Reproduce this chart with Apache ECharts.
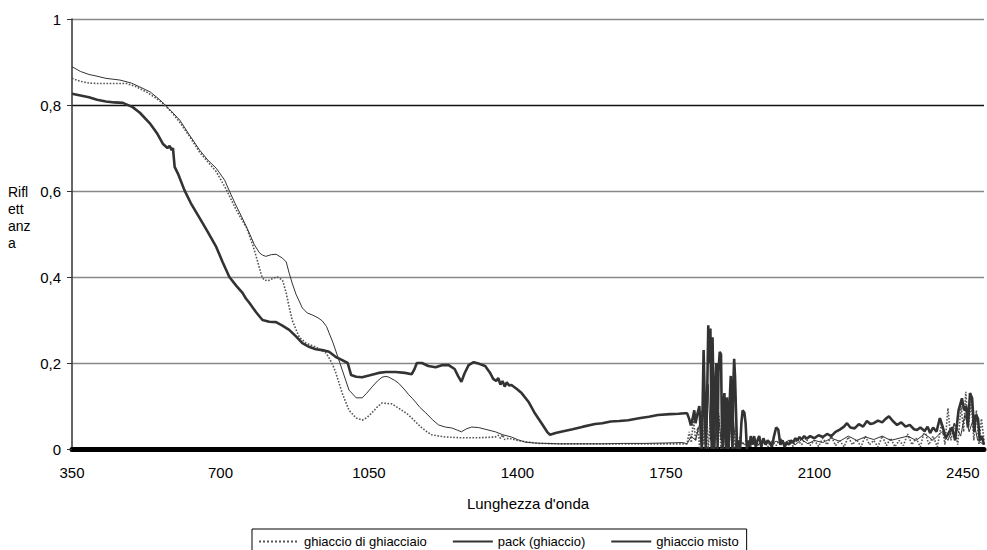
<!DOCTYPE html>
<html>
<head>
<meta charset="utf-8">
<script src="https://cdn.jsdelivr.net/npm/echarts@6/dist/echarts.min.js"></script>
<style>
html,body{margin:0;padding:0;background:#fff;}
#chart{width:987px;height:550px;}
</style>
</head>
<body>
<div id="chart"></div>
<script>
// ---- Data (wavelength nm, reflectance) ----
const seriesNames = ['ghiaccio di ghiacciaio', 'pack (ghiaccio)', 'ghiaccio misto'];
const xTicks = [350, 700, 1050, 1400, 1750, 2100, 2450];
const yTicks = [0, 0.2, 0.4, 0.6, 0.8, 1];

const wlGhiacciaio = [350,370,390,409,440,479,500,526,545,564,585,604,627,651,670,690,713,737,761,776,785,792,798,803,812,822,834,846,850,855,862,869,878,886,902,925,940,949,956,965,972,987,1003,1020,1034,1045,1057,1070,1081,1090,1104,1115,1128,1140,1151,1163,1175,1187,1198,1215,1230,1268,1300,1330,1348,1355,1360,1365,1370,1380,1400,1426,1450,1500,1600,1700,1790,
1800,1805,1810,1815,1820,1825,1830,1835,1840,1845,1850,1855,1860,1865,1870,1875,1880,1885,1890,1895,1900,1905,1910,1915,1920,1925,1930,1940,1950,1960,1970,1980,1990,2000,2010,2020,2030,2040,2050,2060,2070,2080,2090,2100,2110,2120,2130,2140,2150,2160,2170,2180,2190,2200,2210,2220,2230,2240,2250,2260,2270,2280,2290,2300,2310,2320,2330,2340,2350,2360,2370,2380,2390,2400,2408,2415,2422,2430,2438,2446,2452,2457,2463,2470,2476,2482,2488,2494,2500];
const rGhiacciaio = [0.862,0.855,0.851,0.85,0.85,0.85,0.843,0.83,0.818,0.804,0.783,0.76,0.727,0.69,0.668,0.645,0.605,0.556,0.516,0.475,0.445,0.42,0.40,0.393,0.391,0.396,0.40,0.393,0.38,0.363,0.33,0.30,0.278,0.26,0.246,0.237,0.228,0.223,0.212,0.195,0.177,0.13,0.09,0.072,0.067,0.073,0.084,0.098,0.107,0.106,0.105,0.098,0.09,0.082,0.072,0.06,0.049,0.04,0.033,0.03,0.028,0.026,0.026,0.027,0.028,0.032,0.025,0.033,0.022,0.025,0.02,0.016,0.013,0.012,0.012,0.012,0.012,
0.012,0.04,0.015,0.07,0.02,0.05,0.0,0.09,0.01,0.114,0.0,0.07,0.01,0.12,0.02,0.083,0.0,0.06,0.01,0.1,0.02,0.09,0.0,0.05,0.005,0.03,0.01,0.02,0.005,0.025,0.008,0.02,0.005,0.018,0.008,0.025,0.01,0.02,0.006,0.022,0.01,0.025,0.008,0.02,0.006,0.025,0.01,0.03,0.008,0.02,0.005,0.028,0.01,0.022,0.005,0.03,0.01,0.02,0.005,0.03,0.008,0.025,0.005,0.02,0.008,0.035,0.01,0.025,0.005,0.045,0.01,0.03,0.005,0.06,0.01,0.095,0.02,0.06,0.01,0.1,0.04,0.133,0.05,0.11,0.02,0.09,0.01,0.07,0.02];

const wlPack = [350,370,390,409,430,463,490,510,535,557,580,604,627,651,670,690,710,721,735,750,768,780,792,799,807,820,831,846,855,862,869,878,893,905,916,930,940,950,956,965,972,987,1003,1020,1034,1045,1057,1070,1081,1090,1097,1110,1120,1135,1144,1152,1160,1170,1184,1200,1214,1230,1245,1258,1268,1280,1292,1308,1324,1340,1348,1366,1386,1400,1418,1440,1466,1500,1550,1600,1650,1700,1750,1790,
1800,1810,1820,1830,1840,1845,1850,1855,1860,1865,1872,1880,1890,1900,1907,1915,1925,1935,1950,1965,1980,1995,2010,2025,2040,2055,2070,2085,2100,2120,2140,2160,2180,2200,2220,2240,2260,2280,2300,2320,2340,2360,2380,2400,2415,2430,2445,2455,2465,2475,2485,2500];
const rPack = [0.889,0.878,0.871,0.867,0.862,0.858,0.851,0.842,0.83,0.812,0.79,0.765,0.73,0.695,0.672,0.653,0.625,0.60,0.57,0.54,0.502,0.475,0.456,0.451,0.448,0.452,0.453,0.444,0.435,0.409,0.386,0.36,0.328,0.316,0.312,0.305,0.298,0.285,0.27,0.248,0.228,0.184,0.137,0.119,0.119,0.13,0.144,0.158,0.167,0.169,0.167,0.16,0.153,0.137,0.126,0.118,0.109,0.097,0.084,0.068,0.056,0.051,0.049,0.044,0.04,0.047,0.051,0.05,0.046,0.042,0.04,0.033,0.028,0.022,0.016,0.014,0.013,0.012,0.012,0.012,0.013,0.013,0.014,0.015,
0.012,0.03,0.02,0.06,0.1,0.0,0.15,0.02,0.12,0.0,0.1,0.02,0.08,0.03,0.1,0.0,0.02,0.01,0.015,0.008,0.02,0.01,0.018,0.012,0.02,0.01,0.022,0.012,0.02,0.015,0.025,0.018,0.03,0.02,0.028,0.022,0.03,0.02,0.025,0.03,0.02,0.035,0.02,0.04,0.02,0.06,0.03,0.08,0.04,0.07,0.02,0.01];

const wlMisto = [350,370,390,409,430,450,470,493,510,533,550,564,575,580,585,588,592,600,615,630,651,670,690,705,721,737,752,760,768,784,799,815,831,846,862,878,893,910,925,940,956,972,980,1000,1008,1020,1034,1050,1073,1090,1113,1135,1151,1157,1163,1175,1190,1207,1222,1238,1252,1260,1268,1275,1285,1297,1310,1324,1335,1343,1350,1355,1360,1365,1370,1375,1380,1386,1398,1410,1426,1440,1457,1470,1477,1490,1503,1530,1555,1583,1600,1620,1640,1661,1690,1710,1731,1760,1780,1795,
1800,1805,1809,1813,1817,1820,1824,1829,1832,1835,1837,1839,1842,1844,1847,1850,1852,1855,1857,1858,1860,1862,1864,1866,1869,1872,1874,1877,1880,1882,1884,1886,1888,1890,1892,1894,1896,1898,1900,1903,1905,1907,1909,1911,1913,1915,1918,1921,1925,1928,1931,1935,1938,1941,1944,1947,1950,1954,1958,1962,1966,1970,1975,1980,1985,1990,1995,2000,2005,2010,2015,2020,2025,2030,2035,2040,2045,2050,2055,2060,2065,2070,2076,2082,2090,2100,2110,2120,2130,2140,2150,2160,2170,2177,2185,2195,2205,2215,2224,2232,2240,2250,2260,2268,2276,2285,2295,2305,2315,2325,2335,2342,2350,2360,2367,2373,2380,2388,2396,2403,2410,2418,2425,2432,2440,2448,2453,2458,2462,2467,2472,2477,2481,2486,2490,2495,2500];
const rMisto = [0.826,0.822,0.818,0.812,0.808,0.806,0.805,0.795,0.782,0.758,0.735,0.71,0.70,0.705,0.695,0.70,0.656,0.64,0.602,0.572,0.537,0.505,0.47,0.435,0.40,0.38,0.363,0.35,0.34,0.318,0.30,0.296,0.295,0.287,0.277,0.262,0.246,0.237,0.232,0.23,0.226,0.214,0.21,0.20,0.172,0.168,0.167,0.171,0.177,0.179,0.179,0.177,0.174,0.185,0.2,0.2,0.193,0.19,0.195,0.195,0.186,0.17,0.156,0.175,0.195,0.202,0.198,0.193,0.178,0.163,0.158,0.165,0.15,0.158,0.145,0.155,0.148,0.149,0.14,0.13,0.11,0.085,0.06,0.04,0.033,0.037,0.04,0.046,0.052,0.058,0.06,0.064,0.065,0.067,0.072,0.075,0.079,0.081,0.082,0.083,
0.083,0.07,0.055,0.07,0.09,0.06,0.08,0.10,0.04,0.0,0.12,0.23,0.1,0.0,0.1,0.288,0.2,0.28,0.1,0.0,0.26,0.15,0.0,0.12,0.2,0.0,0.18,0.226,0.22,0.06,0.0,0.1,0.13,0.04,0.0,0.12,0.05,0.0,0.1,0.17,0.06,0.0,0.15,0.21,0.17,0.1,0.0,0.02,0.0,0.06,0.09,0.085,0.06,0.0,0.02,0.005,0.03,0.01,0.03,0.005,0.02,0.03,0.005,0.025,0.01,0.02,0.015,0.005,0.03,0.05,0.045,0.01,0.02,0.005,0.015,0.01,0.02,0.015,0.025,0.02,0.028,0.022,0.03,0.024,0.03,0.025,0.032,0.028,0.035,0.03,0.04,0.045,0.052,0.06,0.05,0.048,0.058,0.052,0.065,0.058,0.06,0.066,0.062,0.07,0.076,0.065,0.056,0.062,0.052,0.056,0.046,0.044,0.05,0.042,0.052,0.037,0.05,0.04,0.072,0.05,0.025,0.04,0.05,0.02,0.09,0.118,0.09,0.1,0.05,0.13,0.118,0.04,0.08,0.07,0.02,0.03,0.01];

function pairs(xs, ys) { return xs.map((x, i) => [x, ys[i]]); }

const chart = echarts.init(document.getElementById('chart'), null, { renderer: 'svg' });
const font = 'Liberation Sans, Arial, sans-serif';

chart.setOption({
  animation: false,
  backgroundColor: '#fff',
  textStyle: { fontFamily: font },
  grid: { left: 72, right: 0, top: 19, bottom: 101 },
  xAxis: {
    type: 'value',
    min: xTicks[0], max: 2500, interval: 350,
    name: "Lunghezza d'onda",
    nameLocation: 'middle', nameGap: 47,
    nameTextStyle: { fontSize: 15, color: '#000', fontFamily: font },
    axisLine: { show: true, onZero: false, lineStyle: { color: '#000', width: 5 } },
    axisTick: { show: false },
    splitLine: { show: false },
    axisLabel: {
      fontSize: 15, color: '#000', margin: 16, fontFamily: font,
      formatter: v => (xTicks.indexOf(v) >= 0 ? String(v) : '')
    }
  },
  yAxis: {
    type: 'value',
    min: yTicks[0], max: yTicks[yTicks.length - 1], interval: 0.2,
    axisLine: { show: true, lineStyle: { color: '#333', width: 1.5 } },
    axisTick: { show: true, length: 5, lineStyle: { color: '#333' } },
    splitLine: { show: true, lineStyle: { color: ['#888', '#888', '#888', '#888', '#111', '#888'], width: 1.3 } },
    axisLabel: {
      fontSize: 15, color: '#000', margin: 11, fontFamily: font,
      formatter: v => String(Math.round(v * 10) / 10).replace('.', ',')
    }
  },
  legend: {
    left: 252, top: 529,
    itemWidth: 40, itemHeight: 10, itemGap: 25,
    borderColor: '#000', borderWidth: 1, borderRadius: 0,
    padding: [6, 8, 12, 6],
    itemStyle: { opacity: 0 },
    textStyle: { fontSize: 13, color: '#000', fontFamily: font },
    data: seriesNames
  },
  graphic: [{
    type: 'text', left: 8, top: 183,
    style: { text: 'Rifl\nett\nanz\na', font: '14px ' + font, fill: '#000', lineHeight: 17 }
  }],
  series: [
    {
      name: seriesNames[0], type: 'line', showSymbol: false, symbol: 'none',
      data: pairs(wlGhiacciaio, rGhiacciaio),
      lineStyle: { color: '#555', width: 1.6, type: 'dotted' },
      itemStyle: { color: '#555' }, z: 2
    },
    {
      name: seriesNames[1], type: 'line', showSymbol: false, symbol: 'none',
      data: pairs(wlPack, rPack),
      lineStyle: { color: '#333', width: 1 },
      itemStyle: { color: '#333' }, z: 3
    },
    {
      name: seriesNames[2], type: 'line', showSymbol: false, symbol: 'none',
      data: pairs(wlMisto, rMisto),
      lineStyle: { color: '#333', width: 2.6 },
      itemStyle: { color: '#333' }, z: 4
    }
  ]
});
</script>
</body>
</html>
